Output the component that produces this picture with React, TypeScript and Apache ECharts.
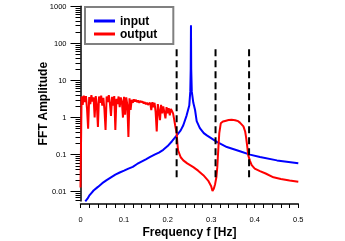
import React, { useEffect, useRef } from "react";
import * as echarts from "echarts";

// input (blue) spectrum: [frequency, amplitude]
const inputFreq = [0.011, 0.016, 0.02, 0.025, 0.03, 0.04, 0.05, 0.06, 0.07, 0.08, 0.09, 0.1, 0.11, 0.12, 0.13, 0.14, 0.15, 0.16, 0.17, 0.18, 0.19, 0.2, 0.21, 0.22, 0.23, 0.236, 0.2437, 0.2497, 0.252, 0.253, 0.2536, 0.2542, 0.2555, 0.259, 0.263, 0.2667, 0.274, 0.283, 0.29, 0.313, 0.336, 0.366, 0.389, 0.412, 0.451, 0.5];
const inputAmp = [0.0055, 0.0065, 0.0078, 0.0092, 0.0108, 0.0135, 0.017, 0.0205, 0.0245, 0.029, 0.033, 0.037, 0.042, 0.047, 0.056, 0.065, 0.075, 0.087, 0.1, 0.114, 0.135, 0.17, 0.23, 0.32, 0.45, 0.62, 1.15, 2.1, 5, 20, 310, 20, 5, 2.5, 1.6, 0.8, 0.52, 0.38, 0.33, 0.22, 0.16, 0.123, 0.1, 0.086, 0.07, 0.059];

// output (red) spectrum: [frequency, amplitude]
const outputFreq = [0, 0.0025, 0.005, 0.0075, 0.01, 0.0125, 0.015, 0.0175, 0.02, 0.0225, 0.025, 0.0275, 0.03, 0.0325, 0.035, 0.0375, 0.04, 0.0425, 0.045, 0.0475, 0.05, 0.0525, 0.055, 0.0575, 0.06, 0.0625, 0.065, 0.0675, 0.07, 0.0725, 0.075, 0.0775, 0.08, 0.0825, 0.085, 0.0875, 0.09, 0.0925, 0.095, 0.0975, 0.1, 0.1025, 0.105, 0.1075, 0.11, 0.1125, 0.115, 0.1175, 0.12, 0.1225, 0.125, 0.1275, 0.13, 0.1325, 0.135, 0.1375, 0.14, 0.1425, 0.145, 0.1475, 0.15, 0.1525, 0.155, 0.1575, 0.16, 0.1625, 0.165, 0.1675, 0.17, 0.1725, 0.175, 0.1775, 0.18, 0.1825, 0.185, 0.1875, 0.19, 0.1925, 0.195, 0.1975, 0.2, 0.2025, 0.205, 0.2075, 0.21, 0.2125, 0.215, 0.2175, 0.2207, 0.2225, 0.224, 0.23, 0.236, 0.245, 0.259, 0.27, 0.282, 0.293, 0.3, 0.303, 0.306, 0.309, 0.312, 0.314, 0.3165, 0.3186, 0.322, 0.327, 0.332, 0.34, 0.347, 0.355, 0.362, 0.366, 0.374, 0.378, 0.38, 0.383, 0.385, 0.389, 0.393, 0.4, 0.412, 0.425, 0.443, 0.46, 0.48, 0.5];
const outputAmp = [0.013, 3.7, 2.2, 3.9, 2.6, 3.8, 1.7, 0.5, 3.6, 2.3, 4.0, 2.7, 3.5, 1.0, 3.8, 2.2, 0.56, 3.7, 2.5, 3.9, 2.1, 3.4, 1.6, 0.46, 3.7, 2.6, 4.0, 2.4, 1.1, 3.6, 2.1, 3.8, 0.46, 3.2, 2.3, 3.7, 1.9, 3.5, 2.7, 1.0, 3.6, 1.2, 3.5, 2.2, 0.3, 3.3, 1.6, 3.0, 2.5, 3.1, 2.7, 3.0, 2.6, 2.9, 2.5, 2.8, 2.6, 2.7, 2.4, 2.6, 2.3, 2.5, 2.2, 2.4, 2.5, 1.6, 2.6, 1.9, 2.5, 1.4, 0.42, 2.3, 1.5, 0.85, 2.2, 1.3, 2.0, 1.4, 0.95, 1.9, 1.3, 1.8, 1.15, 1.7, 1.5, 1.3, 0.9, 0.6, 0.38, 0.2, 0.13, 0.085, 0.07, 0.058, 0.046, 0.037, 0.028, 0.02, 0.014, 0.0105, 0.012, 0.016, 0.025, 0.046, 0.15, 0.38, 0.7, 0.78, 0.81, 0.86, 0.87, 0.85, 0.8, 0.73, 0.58, 0.42, 0.3, 0.16, 0.097, 0.068, 0.052, 0.042, 0.036, 0.031, 0.0245, 0.022, 0.02, 0.0185];

// dashed band edges
const cutoffFreqs = [0.2207, 0.31, 0.387];
const cutoffTop = 70;
const cutoffBottom = 0.0215;

// axis ticks
const yMajorTicks = [0.01, 0.1, 1, 10, 100, 1000];
const yMinorTicks: number[] = [];
for (const d of [0.001, 0.01, 0.1, 1, 10, 100]) {
  for (const m of [2, 3, 4, 5, 6, 7, 8, 9]) yMinorTicks.push(+(d * m).toPrecision(3));
}
const yMin = Math.pow(10, -2.25);
const yMax = 1000;

const FONT = "Liberation Sans";

export default function App() {
  const ref = useRef<HTMLDivElement>(null);
  useEffect(() => {
    if (!ref.current) return;
    const chart = echarts.init(ref.current, undefined, { renderer: "svg" });
    const pair = (xs: number[], ys: number[]) => xs.map((x, i) => [x, ys[i]]);
    const dashed = cutoffFreqs.map((f) => ({
      type: "line",
      data: [[f, cutoffTop], [f, cutoffBottom]],
      symbol: "none",
      silent: true,
      lineStyle: { color: "#000", width: 2, type: [7, 4] },
      z: 4,
    }));
    chart.setOption({
      animation: false,
      grid: { left: 80.5, right: 46.7, top: 6.3, bottom: 40, outerBoundsMode: "none", containLabel: false },
      legend: {
        data: ["input", "output"],
        orient: "vertical",
        left: 85,
        top: 7,
        icon: "rect",
        itemWidth: 21,
        itemHeight: 3,
        itemGap: 1,
        itemTextGap: 10,
        padding: [8, 16, 4, 9],
        borderColor: "#808080",
        borderWidth: 2,
        borderRadius: 0,
        backgroundColor: "#fff",
        textStyle: { fontFamily: FONT, fontWeight: "bold", fontSize: 12, lineHeight: 12, color: "#000" },
      },
      xAxis: {
        type: "value",
        min: 0,
        max: 0.5,
        interval: 0.1,
        offset: 3,
        splitLine: { show: false },
        axisLine: { lineStyle: { color: "#000", width: 1.5 } },
        axisTick: { length: 4, lineStyle: { color: "#000", width: 1 } },
        minorTick: { show: true, splitNumber: 5, length: 4, lineStyle: { color: "#000", width: 1 } },
        axisLabel: {
          margin: 11,
          fontSize: 7.5,
          fontFamily: FONT,
          color: "#000",
          formatter: (v: number) => String(+v.toFixed(2)),
        },
        name: "Frequency f [Hz]",
        nameLocation: "middle",
        nameGap: 22,
        nameMoveOverlap: false,
        nameTextStyle: { fontFamily: FONT, fontWeight: "bold", fontSize: 12, color: "#000" },
      },
      yAxis: [
        {
          type: "log",
          logBase: 10,
          min: yMin,
          max: yMax,
          position: "left",
          splitLine: { show: false },
          axisLine: { show: true, lineStyle: { color: "#000", width: 1.5 } },
          axisTick: { show: true, length: 10, customValues: yMajorTicks, lineStyle: { color: "#000", width: 1 } },
          axisLabel: {
            customValues: yMajorTicks,
            margin: 14,
            fontSize: 7.5,
            fontFamily: FONT,
            color: "#000",
            formatter: (v: number) => String(+v.toPrecision(3)),
          },
          name: "FFT Amplitude",
          nameLocation: "middle",
          nameGap: 32,
          nameMoveOverlap: false,
          nameRotate: 90,
          nameTextStyle: { fontFamily: FONT, fontWeight: "bold", fontSize: 12, color: "#000" },
        },
        {
          type: "log",
          logBase: 10,
          min: yMin,
          max: yMax,
          position: "left",
          splitLine: { show: false },
          axisLine: { show: false },
          axisTick: { show: true, length: 5, customValues: yMinorTicks, lineStyle: { color: "#000", width: 1 } },
          axisLabel: { show: false },
        },
      ],
      series: [
        {
          name: "input",
          type: "line",
          data: pair(inputFreq, inputAmp),
          symbol: "none",
          lineStyle: { color: "#0000ff", width: 2 },
          itemStyle: { color: "#0000ff" },
          z: 2,
        },
        {
          name: "output",
          type: "line",
          data: pair(outputFreq, outputAmp),
          symbol: "none",
          lineStyle: { color: "#ff0000", width: 2 },
          itemStyle: { color: "#ff0000" },
          z: 3,
        },
        ...dashed,
      ],
    });
    return () => chart.dispose();
  }, []);
  return <div ref={ref} style={{ position: "fixed", left: 0, top: 0, width: 345, height: 241 }} />;
}
